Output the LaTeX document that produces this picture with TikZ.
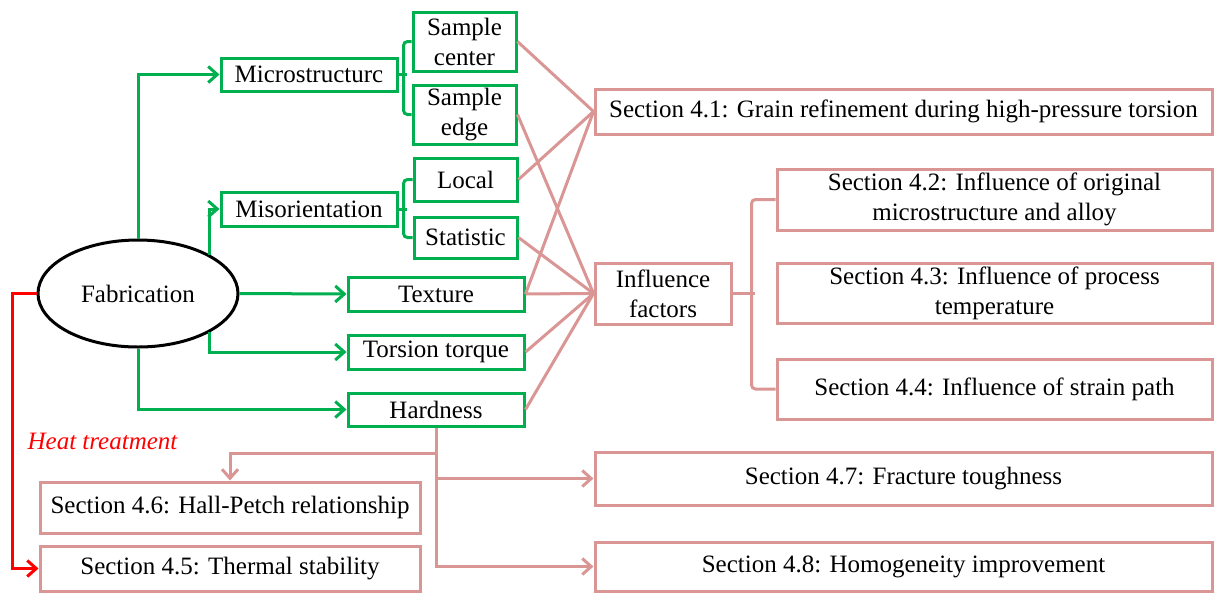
\documentclass[tikz,border=0pt]{standalone}
\usepackage{fontspec}
\setmainfont{Liberation Serif}
\usetikzlibrary{shapes.geometric,arrows.meta}
\definecolor{gr}{HTML}{00B050}
\definecolor{pk}{HTML}{D99694}
\definecolor{rd}{HTML}{FF0000}
\tikzset{
  base/.style={line width=3pt, inner sep=0pt, align=center, font=\fontsize{25}{30}\selectfont},
  gbox/.style={base, draw=gr, rectangle},
  pbox/.style={base, draw=pk, rectangle},
  wh/.style n args={2}{minimum width=#1, minimum height=#2},
  tip/.style={-{Straight Barb[length=9pt,width=16pt]}},
  gline/.style={draw=gr, line width=3pt},
  pline/.style={draw=pk, line width=3pt},
  rline/.style={draw=rd, line width=3pt},
  brk/.style={rounded corners=4pt},
}
\begin{document}
\begin{tikzpicture}[x=1pt,y=-1pt]
\useasboundingbox (0,0) rectangle (1214,592);
% nodes
\node[base, draw=black, ellipse, wh={200}{107}] (fab) at (138,293.5) {Fabrication};
\node[gbox, wh={176}{33}] (micro) at (309,74.5) {Microstructurc};
\node[gbox, wh={176}{34}] (misor) at (309,209) {Misorientation};
\node[gbox, wh={103}{59}] (sc) at (464.5,41.5) {Sample\\center};
\node[gbox, wh={103}{59}] (se) at (464.5,114.5) {Sample\\edge};
\node[gbox, wh={103}{43}] (loc) at (465.5,179.5) {Local};
\node[gbox, wh={103}{41}] (stat) at (465.5,237.5) {Statistic};
\node[gbox, wh={176}{34}] (tex) at (436,294) {Texture};
\node[gbox, wh={176}{34}] (tor) at (436,352) {Torsion torque};
\node[gbox, wh={176}{33}] (hard) at (436,409.5) {Hardness};
\node[pbox, wh={617}{45}] (s41) at (903.5,111.5) {Section 4.1: Grain refinement during high-pressure torsion};
\node[pbox, wh={136}{61}] (inf) at (663,293.5) {Influence\\factors};
\node[pbox, wh={435}{61}] (s42) at (994.5,199.5) {Section 4.2: Influence of original\\microstructure and alloy};
\node[pbox, wh={435}{60}] (s43) at (994.5,293) {Section 4.3: Influence of process\\temperature};
\node[pbox, wh={435}{60}] (s44) at (994.5,389) {Section 4.4: Influence of strain path};
\node[pbox, wh={617}{53}] (s47) at (903.5,478.5) {Section 4.7: Fracture toughness};
\node[pbox, wh={617}{49}] (s48) at (903.5,566.5) {Section 4.8: Homogeneity improvement};
\node[pbox, wh={380}{51}] (s46) at (230,507.5) {Section 4.6: Hall-Petch relationship};
\node[pbox, wh={380}{45}] (s45) at (230,568.5) {Section 4.5: Thermal stability};
\node[base, text=rd, font=\fontsize{25}{30}\selectfont\itshape] (ht) at (102.5,441) {Heat treatment};
% green connectors
\draw[gline, tip] (fab.north) |- (micro.west);
\draw[gline, tip] (fab.north east) |- (misor.west);
\draw[gline, tip] (fab.east) -- (tex.west);
\draw[gline, tip] (fab.south east) |- (tor.west);
\draw[gline, tip] (fab.south) |- (hard.west);
% green brackets
\draw[gline, brk] (sc.west) -- ++(-8,0) |- (se.west);
\draw[gline] (micro.east) -- ++(8,0);
\draw[gline, brk] (loc.west) -- ++(-9,0) |- (stat.west);
\draw[gline] (misor.east) -- ++(8,0);
% red heat treatment
\draw[rline, tip] (fab.west) -- ++(-24,0) |- (s45.west);
% pink connectors
\draw[pline] (sc.east) -- (s41.west);
\draw[pline] (loc.east) -- (s41.west);
\draw[pline] (tex.east) -- (s41.west);
\draw[pline] (se.east) -- (inf.west);
\draw[pline] (stat.east) -- (inf.west);
\draw[pline] (tex.east) -- (inf.west);
\draw[pline] (tor.east) -- (inf.west);
\draw[pline] (hard.east) -- (inf.west);
% pink bracket
\draw[pline, brk] (s42.west) -- ++(-24,0) |- (s44.west);
\draw[pline] (inf.east) -- ++(22,0);
% hardness branches
\coordinate (hb) at (436,453);
\draw[pline, tip] (hard.south) |- (s48.west);
\draw[pline, tip] (hard.south |- s47.west) -- (s47.west);
\draw[pline] (hard.south) -- (hb);
\draw[pline, tip] (hb) -| (s46.north);
\end{tikzpicture}
\end{document}
